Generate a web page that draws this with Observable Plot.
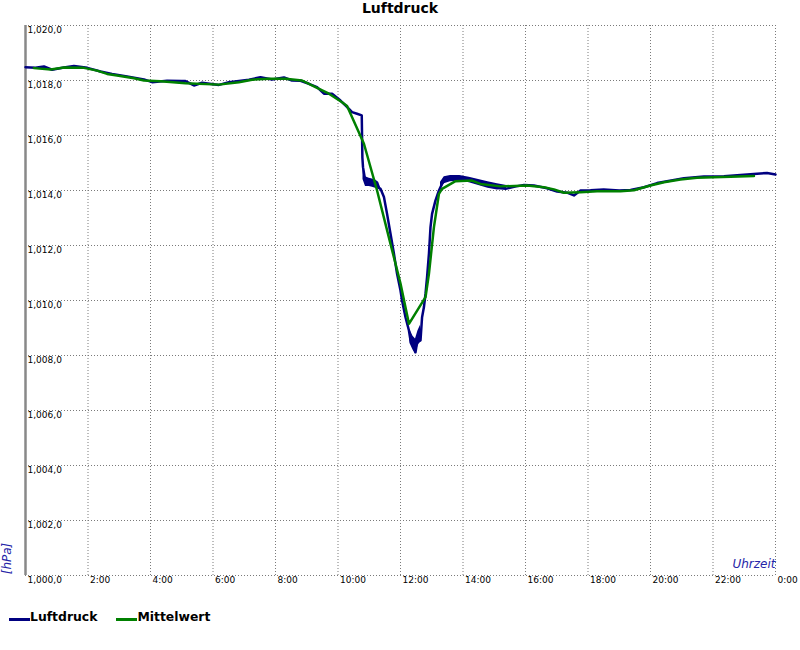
<!DOCTYPE html>
<html>
<head>
<meta charset="utf-8">
<script src="https://cdn.jsdelivr.net/npm/d3@7"></script>
<script src="https://cdn.jsdelivr.net/npm/@observablehq/plot@0.6"></script>
<style>
  html, body { margin: 0; padding: 0; background: #fff; overflow: hidden; }
  #wrap { position: relative; width: 800px; height: 650px; }
  #title { position: absolute; left: 0; top: 0; width: 800px; text-align: center;
           font: bold 14px "DejaVu Sans", sans-serif; line-height: 16px; color: #000; }
  #legend { position: absolute; left: 9px; top: 610px; display: flex;
            font: bold 12.4px "DejaVu Sans", sans-serif; line-height: 14px; color: #000; }
  #legend .item { white-space: nowrap; }
  #legend .item + .item { margin-left: 19px; }
  #legend .sw { display: inline-block; width: 21px; height: 3px; vertical-align: baseline; }
  #chart { position: absolute; left: 0; top: 0; }
</style>
</head>
<body>
<div id="wrap">
  <div id="chart"></div>
  <div id="title"></div>
  <div id="legend"></div>
</div>
<script>
// ---- data ----
const chartTitle = "Luftdruck";
const seriesNames = ["Luftdruck", "Mittelwert"];
const seriesColors = ["#000080", "#008000"];

const yTicks = [1000, 1002, 1004, 1006, 1008, 1010, 1012, 1014, 1016, 1018, 1020];
const yTickLabels = ["1,000,0", "1,002,0", "1,004,0", "1,006,0", "1,008,0", "1,010,0",
                     "1,012,0", "1,014,0", "1,016,0", "1,018,0", "1,020,0"];
const xTicks = [2, 4, 6, 8, 10, 12, 14, 16, 18, 20, 22, 24];
const xTickLabels = ["2:00", "4:00", "6:00", "8:00", "10:00", "12:00", "14:00",
                     "16:00", "18:00", "20:00", "22:00", "0:00"];
const xAxisTitle = "Uhrzeit";
const yAxisTitle = "[hPa]";

// Luftdruck (hours, hPa)
const blueTime = [0.00, 0.32, 0.59, 0.85, 1.23, 1.55, 1.98, 2.40, 2.77, 3.25, 3.79, 4.05, 4.53, 5.00,
  5.12, 5.39, 5.65, 6.19, 6.51, 7.15, 7.52, 7.89, 8.27, 8.53, 8.80, 9.07, 9.33, 9.55, 9.81, 10.08,
  10.35, 10.45, 10.61, 10.76, 10.78, 10.80, 10.88, 11.10, 11.36, 11.47, 11.57, 11.68, 11.79, 11.89,
  12.00, 12.05, 12.16, 12.27, 12.32, 12.43, 12.48, 12.53, 12.64, 12.69, 12.75, 12.80, 12.85, 12.91,
  12.96, 13.01, 13.12, 13.23, 13.33, 13.44, 13.87, 14.29, 14.61, 15.04, 15.36, 15.70, 15.95, 16.27,
  16.69, 17.01, 17.33, 17.55, 17.76, 18.08, 18.50, 19.00, 19.36, 19.79, 20.21, 20.53, 21.07, 21.71,
  22.35, 22.88, 23.41, 23.73, 24.00];
const blueValue = [1018.48, 1018.46, 1018.51, 1018.39, 1018.47, 1018.53, 1018.46, 1018.33, 1018.24,
  1018.15, 1018.04, 1017.94, 1017.99, 1017.98, 1017.98, 1017.82, 1017.92, 1017.84, 1017.94, 1018.03,
  1018.12, 1018.04, 1018.11, 1018.00, 1017.99, 1017.88, 1017.76, 1017.52, 1017.52, 1017.27, 1016.97,
  1016.85, 1016.79, 1016.73, 1015.20, 1014.85, 1014.30, 1014.25, 1014.06, 1013.76, 1013.15, 1012.43,
  1011.70, 1010.97, 1010.36, 1010.00, 1009.39, 1008.91, 1008.55, 1008.30, 1008.12, 1008.48, 1008.55,
  1009.39, 1009.76, 1010.24, 1010.85, 1011.70, 1012.67, 1013.15, 1013.64, 1014.00, 1014.24, 1014.42,
  1014.48, 1014.36, 1014.24, 1014.12, 1014.06, 1014.15, 1014.20, 1014.18, 1014.08, 1013.96, 1013.92,
  1013.82, 1014.00, 1014.01, 1014.04, 1014.00, 1014.02, 1014.12, 1014.27, 1014.34, 1014.45, 1014.51,
  1014.52, 1014.56, 1014.61, 1014.64, 1014.58];

// Luftdruck jitter envelopes visible in the picture (hours, low, high)
const bandGroup = ["a","a","a","a","a","a","a", "b","b","b","b","b", "c","c","c","c","c","c","c","c","c"];
const bandTime = [10.80, 10.88, 11.00, 11.10, 11.20, 11.30, 11.36,
                  12.30, 12.40, 12.48, 12.56, 12.64,
                  13.28, 13.40, 13.60, 13.90, 14.20, 14.50, 14.80, 15.10, 15.40];
const bandLow = [1014.40, 1014.15, 1014.15, 1014.12, 1014.08, 1014.05, 1014.02,
                 1008.45, 1008.20, 1008.05, 1008.35, 1008.50,
                 1014.05, 1014.25, 1014.32, 1014.35, 1014.28, 1014.18, 1014.08, 1014.02, 1014.04];
const bandHigh = [1014.90, 1014.50, 1014.45, 1014.42, 1014.38, 1014.30, 1014.12,
                  1008.95, 1008.70, 1008.60, 1008.90, 1009.10,
                  1014.30, 1014.50, 1014.55, 1014.55, 1014.48, 1014.40, 1014.32, 1014.25, 1014.18];

// Mittelwert (hours, hPa)
const greenTime = [0.27, 0.80, 1.23, 1.87, 2.29, 2.61, 2.93, 3.47, 3.79, 4.32, 5.12, 6.19, 6.83, 7.25,
  7.79, 8.32, 8.85, 9.28, 9.71, 10.13, 10.29, 10.83, 11.25, 11.68, 12.00, 12.27, 12.80, 12.91, 13.07,
  13.23, 13.33, 13.76, 14.29, 14.56, 15.20, 16.05, 16.59, 16.91, 17.23, 17.76, 18.29, 19.04, 19.47,
  20.00, 20.43, 20.96, 21.49, 22.56, 23.31];
const greenValue = [1018.45, 1018.40, 1018.47, 1018.46, 1018.36, 1018.24, 1018.18, 1018.08, 1018.00,
  1017.97, 1017.90, 1017.85, 1017.94, 1018.03, 1018.06, 1018.06, 1018.00, 1017.76, 1017.52, 1017.21,
  1017.07, 1015.70, 1014.00, 1012.06, 1010.62, 1009.15, 1010.12, 1010.97, 1012.67, 1013.88, 1014.06,
  1014.34, 1014.36, 1014.24, 1014.15, 1014.18, 1014.12, 1014.04, 1013.92, 1013.94, 1013.97, 1013.97,
  1014.01, 1014.18, 1014.30, 1014.40, 1014.46, 1014.50, 1014.53];

// ---- tables ----
const blue = blueTime.map((t, i) => ({t, v: blueValue[i]}));
const green = greenTime.map((t, i) => ({t, v: greenValue[i]}));
const bands = bandTime.map((t, i) => ({t, lo: bandLow[i], hi: bandHigh[i], g: bandGroup[i]}));

const gridColor = "#7a7a7a";
const axisTitleColor = "#2525a8";

const plot = Plot.plot({
  width: 800,
  height: 650,
  marginLeft: 25,
  marginRight: 25,
  marginTop: 25,
  marginBottom: 75,
  x: {domain: [0, 24], axis: null},
  y: {domain: [1000, 1020], axis: null},
  style: {background: "white", fontFamily: "'DejaVu Sans', sans-serif", overflow: "visible"},
  marks: [
    Plot.ruleY(yTicks, {stroke: gridColor, strokeWidth: 1, strokeDasharray: "1,2"}),
    Plot.ruleX(xTicks, {stroke: gridColor, strokeWidth: 1, strokeDasharray: "1,2"}),
    Plot.ruleX([0], {stroke: "#888", strokeWidth: 2.5}),
    Plot.text(yTicks, {x: () => 0, y: d => d, text: (d, i) => yTickLabels[i],
      textAnchor: "start", lineAnchor: "top", dx: 2, dy: 1, fontSize: 9, fill: "#000"}),
    Plot.text(xTicks, {x: d => d, y: () => 1000, text: (d, i) => xTickLabels[i],
      textAnchor: "start", lineAnchor: "top", dx: 2, dy: 1, fontSize: 9, fill: "#000"}),
    Plot.text([xAxisTitle], {frameAnchor: "bottom-right", textAnchor: "end", dy: -7.5,
      fontSize: 12, fontStyle: "italic", fill: axisTitleColor}),
    Plot.text([yAxisTitle], {frameAnchor: "bottom-left", rotate: -90, textAnchor: "middle",
      dx: -15, dy: -17, fontSize: 12, fontStyle: "italic", fill: axisTitleColor}),
    Plot.areaY(bands, {x: "t", y1: "lo", y2: "hi", z: "g", fill: seriesColors[0]}),
    Plot.line(blue, {x: "t", y: "v", stroke: seriesColors[0], strokeWidth: 2.5, curve: "linear"}),
    Plot.line(green, {x: "t", y: "v", stroke: seriesColors[1], strokeWidth: 2.5, curve: "linear"})
  ]
});
document.getElementById("chart").appendChild(plot);

document.getElementById("title").textContent = chartTitle;
const legend = document.getElementById("legend");
seriesNames.forEach((name, i) => {
  const item = document.createElement("span");
  item.className = "item";
  const sw = document.createElement("span");
  sw.className = "sw";
  sw.style.background = seriesColors[i];
  item.appendChild(sw);
  item.appendChild(document.createTextNode(name));
  legend.appendChild(item);
});
</script>
</body>
</html>
